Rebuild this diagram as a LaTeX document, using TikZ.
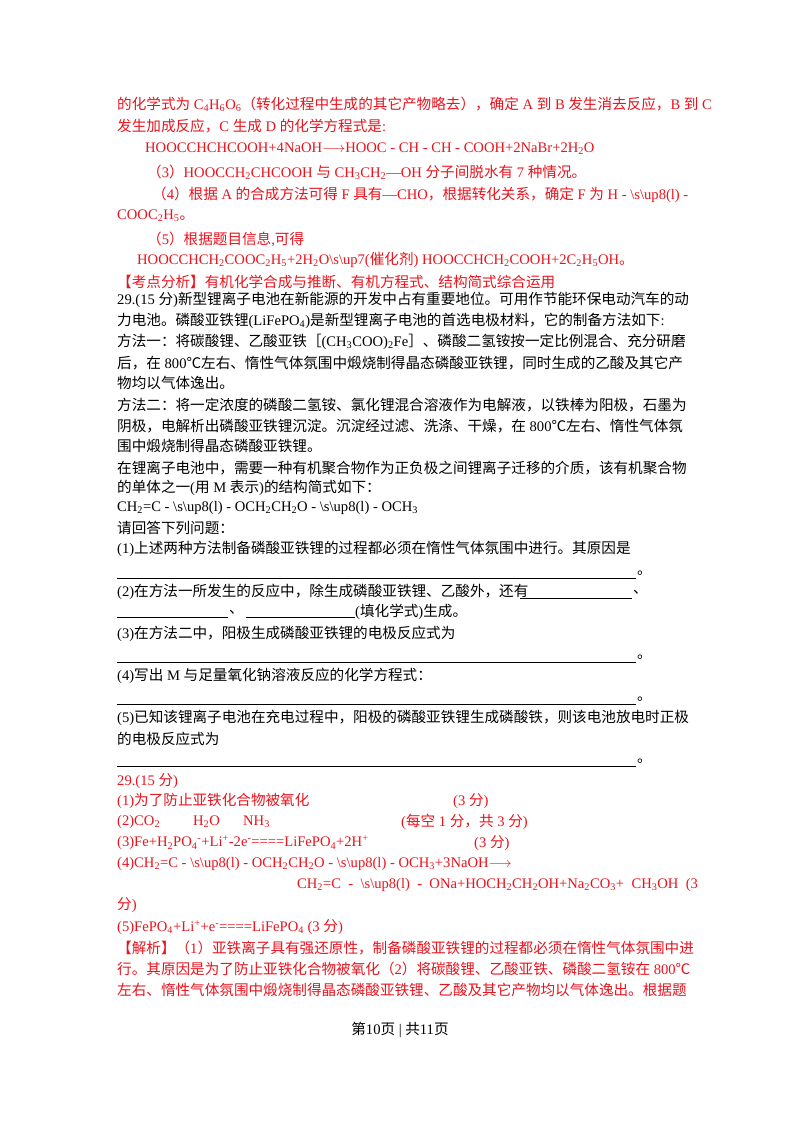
\documentclass[tikz,border=0pt]{standalone}
\usepackage{fontspec}
\setmainfont{Liberation Serif}
\newfontfamily\cjkf{Noto Sans CJK SC}
\XeTeXinterchartokenstate=1
\newXeTeXintercharclass\cjkclass
\makeatletter
\def\setcjkrange#1#2{\count@=#1\relax\loop\XeTeXcharclass\count@=\cjkclass\ifnum\count@<#2\advance\count@ by 1\repeat}
\makeatother
\setcjkrange{"4E00}{"9FFF}
\setcjkrange{"3000}{"303F}
\setcjkrange{"FF00}{"FFEF}
\setcjkrange{"2103}{"2103}
\XeTeXinterchartoks 0 \cjkclass = {\cjkf}
\XeTeXinterchartoks 4095 \cjkclass = {\cjkf}
\XeTeXinterchartoks \cjkclass 0 = {\rmfamily}
\XeTeXinterchartoks \cjkclass 4095 = {\rmfamily}
\newcommand\chsb[1]{\textsubscript{#1}}
\newcommand\chsp[1]{\textsuperscript{#1}}
\newcommand\bsup{\textbackslash s\textbackslash up8(l)}
\definecolor{myred}{RGB}{232,20,30}
\tikzset{t/.style={anchor=west,inner sep=0pt,font=\fontsize{14.6}{16}\selectfont},
 r/.style={t,text=myred}, blank/.style={line width=0.8pt}}
\begin{document}
\begin{tikzpicture}[x=1pt,y=-1pt]
\useasboundingbox[fill=white] (0,0) rectangle (800,1132);
\node[r] (a1) at (117,104) {的化学式为 C\chsb{4}H\chsb{6}O\chsb{6}（转化过程中生成的其它产物略去），确定 A 到 B 发生消去反应，B 到 C};
\node[r] (a2) at (117,126) {发生加成反应，C 生成 D 的化学方程式是:};
\node[r] (a3) at (145,149) {HOOCCHCHCOOH+4NaOH$\longrightarrow$HOOC - CH - CH - COOH+2NaBr+2H\chsb{2}O};
\node[r] (a4) at (147,172) {（3）HOOCCH\chsb{2}CHCOOH 与 CH\chsb{3}CH\chsb{2}—OH 分子间脱水有 7 种情况。};
\node[r] (a5) at (152,195) {（4）根据 A 的合成方法可得 F 具有—CHO，根据转化关系，确定 F 为 H - \bsup\ -};
\node[r] (a6) at (117,216) {COOC\chsb{2}H\chsb{5}。};
\node[r] (a7) at (147,239) {（5）根据题目信息,可得};
\node[r] (a8) at (137,260) {HOOCCHCH\chsb{2}COOC\chsb{2}H\chsb{5}+2H\chsb{2}O\textbackslash s\textbackslash up7(催化剂) HOOCCHCH\chsb{2}COOH+2C\chsb{2}H\chsb{5}OH。};
\node[r] (a9) at (117,282) {【考点分析】有机化学合成与推断、有机方程式、结构简式综合运用};
\node[t] (b1) at (117,300) {29.(15 分)新型锂离子电池在新能源的开发中占有重要地位。可用作节能环保电动汽车的动};
\node[t] (b2) at (117,321) {力电池。磷酸亚铁锂(LiFePO\chsb{4})是新型锂离子电池的首选电极材料，它的制备方法如下:};
\node[t] (b3) at (117,342) {方法一：将碳酸锂、乙酸亚铁［(CH\chsb{3}COO)\chsb{2}Fe］、磷酸二氢铵按一定比例混合、充分研磨};
\node[t] (b4) at (117,363) {后，在 800℃左右、惰性气体氛围中煅烧制得晶态磷酸亚铁锂，同时生成的乙酸及其它产};
\node[t] (b5) at (117,383) {物均以气体逸出。};
\node[t] (b6) at (117,405) {方法二：将一定浓度的磷酸二氢铵、氯化锂混合溶液作为电解液，以铁棒为阳极，石墨为};
\node[t] (b7) at (117,426) {阴极，电解析出磷酸亚铁锂沉淀。沉淀经过滤、洗涤、干燥，在 800℃左右、惰性气体氛};
\node[t] (b8) at (117,446) {围中煅烧制得晶态磷酸亚铁锂。};
\node[t] (b9) at (117,468) {在锂离子电池中，需要一种有机聚合物作为正负极之间锂离子迁移的介质，该有机聚合物};
\node[t] (b10) at (117,488) {的单体之一(用 M 表示)的结构简式如下：};
\node[t] (b11) at (117,508) {CH\chsb{2}=C - \bsup\ - OCH\chsb{2}CH\chsb{2}O - \bsup\ - OCH\chsb{3}};
\node[t] (q0) at (117,528) {请回答下列问题：};
\node[t] (q1) at (117,549) {(1)上述两种方法制备磷酸亚铁锂的过程都必须在惰性气体氛围中进行。其原因是};
\coordinate (l1a) at (117,578); \coordinate (l1b) at (636,578);
\draw[blank] (l1a) -- (l1b); \node[t] (d1) at (637,573) {。};
\node[t] (q2) at (117,592) {(2)在方法一所发生的反应中，除生成磷酸亚铁锂、乙酸外，还有};
\coordinate (l2a) at (520,598); \coordinate (l2b) at (632,598);
\draw[blank] (l2a) -- (l2b); \node[t] (c2) at (633,592) {、};
\coordinate (l3a) at (117,617); \coordinate (l3b) at (228,617);
\draw[blank] (l3a) -- (l3b); \node[t] (c3) at (229,612) {、};
\coordinate (l4a) at (246,617); \coordinate (l4b) at (355,617);
\draw[blank] (l4a) -- (l4b); \node[t] (q2b) at (355,612) {(填化学式)生成。};
\node[t] (q3) at (117,634) {(3)在方法二中，阳极生成磷酸亚铁锂的电极反应式为};
\coordinate (l5a) at (117,662); \coordinate (l5b) at (636,662);
\draw[blank] (l5a) -- (l5b); \node[t] (d5) at (637,657) {。};
\node[t] (q4) at (117,676) {(4)写出 M 与足量氧化钠溶液反应的化学方程式：};
\coordinate (l6a) at (117,704); \coordinate (l6b) at (636,704);
\draw[blank] (l6a) -- (l6b); \node[t] (d6) at (637,699) {。};
\node[t] (q5) at (117,718) {(5)已知该锂离子电池在充电过程中，阳极的磷酸亚铁锂生成磷酸铁，则该电池放电时正极};
\node[t] (q5b) at (117,739) {的电极反应式为};
\coordinate (l7a) at (117,766); \coordinate (l7b) at (636,766);
\draw[blank] (l7a) -- (l7b); \node[t] (d7) at (637,761) {。};
\node[r] (s0) at (117,781) {29.(15 分)};
\node[r] (s1) at (117,801) {(1)为了防止亚铁化合物被氧化};
\node[r] (s1b) at (453,801) {(3 分)};
\node[r] (s2) at (117,822) {(2)CO\chsb{2}};
\node[r] (s2b) at (193,822) {H\chsb{2}O};
\node[r] (s2c) at (243,822) {NH\chsb{3}};
\node[r] (s2d) at (401,822) {(每空 1 分，共 3 分)};
\node[r] (s3) at (117,843) {(3)Fe+H\chsb{2}PO\chsb{4}\chsp{-}+Li\chsp{+}-2e\chsp{-}====LiFePO\chsb{4}+2H\chsp{+}};
\node[r] (s3b) at (474,843) {(3 分)};
\node[r] (s4) at (117,864) {(4)CH\chsb{2}=C - \bsup\ - OCH\chsb{2}CH\chsb{2}O - \bsup\ - OCH\chsb{3}+3NaOH$\longrightarrow$};
\node[r] (s4b) at (297,885) {CH\chsb{2}=C \ - \ \bsup\ \ - \ ONa+HOCH\chsb{2}CH\chsb{2}OH+Na\chsb{2}CO\chsb{3}+ \ CH\chsb{3}OH \ (3};
\node[r] (s4c) at (117,905) {分)};
\node[r] (s5) at (117,927) {(5)FePO\chsb{4}+Li\chsp{+}+e\chsp{-}====LiFePO\chsb{4} (3 分)};
\node[r] (j1) at (117,948) {【解析】（1）亚铁离子具有强还原性，制备磷酸亚铁锂的过程都必须在惰性气体氛围中进};
\node[r] (j2) at (117,969) {行。其原因是为了防止亚铁化合物被氧化（2）将碳酸锂、乙酸亚铁、磷酸二氢铵在 800℃};
\node[r] (j3) at (117,990) {左右、惰性气体氛围中煅烧制得晶态磷酸亚铁锂、乙酸及其它产物均以气体逸出。根据题};
\node[t,anchor=center] (pg) at (400,1030) {第10页 | 共11页};
\end{tikzpicture}
\end{document}
